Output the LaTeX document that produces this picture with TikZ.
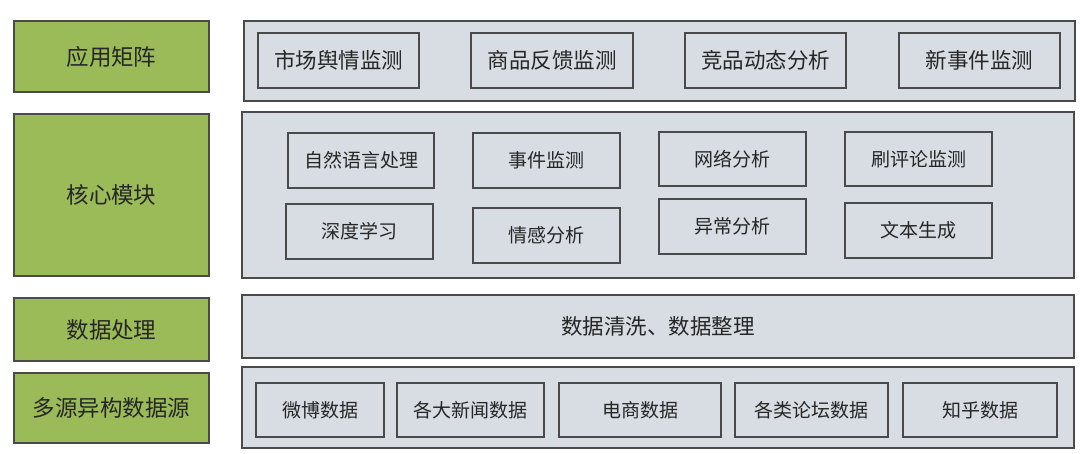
\documentclass[tikz,border=0pt]{standalone}
\usepackage{fontspec}
\setmainfont{Noto Sans CJK SC}
\definecolor{lgreen}{HTML}{9BBB59}
\definecolor{lgray}{HTML}{D7DDE3}
\definecolor{edge}{HTML}{4A4A4A}
\tikzset{
  layer/.style={draw=edge, line width=1.2pt, fill=lgreen, inner sep=0pt, font=\fontsize{22.5}{24}\selectfont, text=black!85},
  panel/.style={draw=edge, line width=1.2pt, fill=lgray, inner sep=0pt},
  itemA/.style={draw=edge, line width=1.2pt, fill=lgray, inner sep=0pt, font=\fontsize{21.5}{24}\selectfont, text=black!85},
  itemB/.style={draw=edge, line width=1.2pt, fill=lgray, inner sep=0pt, font=\fontsize{19}{22}\selectfont, text=black!85},
}
\begin{document}
\begin{tikzpicture}[x=1pt,y=-1pt]
\useasboundingbox[fill=white] (0,0) rectangle (1080,453);
% left labels
\node[layer, minimum width=195pt, minimum height=71pt] (g1) at (111.5,56.5) {应用矩阵};
\node[layer, minimum width=195pt, minimum height=162pt] (g2) at (111.5,195) {核心模块};
\node[layer, minimum width=195pt, minimum height=63pt] (g3) at (111.5,329.5) {数据处理};
\node[layer, minimum width=195pt, minimum height=70pt] (g4) at (111.5,408) {多源异构数据源};
% panels
\node[panel, minimum width=831pt, minimum height=80pt] (c1) at (659.5,61) {};
\node[panel, minimum width=832pt, minimum height=166pt] (c2) at (658,195) {};
\node[panel, minimum width=832pt, minimum height=63pt, font=\fontsize{21.5}{24}\selectfont, text=black!85] (c3) at (658,326.5) {数据清洗、数据整理};
\node[panel, minimum width=832pt, minimum height=81pt] (c4) at (658,407.5) {};
% row 1
\node[itemA, minimum width=161pt, minimum height=55pt] (a1) at (338.5,60.5) {市场舆情监测};
\node[itemA, minimum width=162pt, minimum height=55pt] (a2) at (552,60.5) {商品反馈监测};
\node[itemA, minimum width=161pt, minimum height=55pt] (a3) at (765.5,60.5) {竞品动态分析};
\node[itemA, minimum width=161pt, minimum height=55pt] (a4) at (979.5,60.5) {新事件监测};
% row 2
\node[itemB, minimum width=146pt, minimum height=55pt] (b1) at (361,160.5) {自然语言处理};
\node[itemB, minimum width=147pt, minimum height=55pt] (b2) at (546.5,160.5) {事件监测};
\node[itemB, minimum width=147pt, minimum height=54pt] (b3) at (732.5,159) {网络分析};
\node[itemB, minimum width=147pt, minimum height=54pt] (b4) at (918.5,159) {刷评论监测};
\node[itemB, minimum width=147pt, minimum height=55pt] (b5) at (359.5,231.5) {深度学习};
\node[itemB, minimum width=147pt, minimum height=55pt] (b6) at (546.5,235.5) {情感分析};
\node[itemB, minimum width=147pt, minimum height=55pt] (b7) at (732.5,226.5) {异常分析};
\node[itemB, minimum width=147pt, minimum height=55pt] (b8) at (918.5,230.5) {文本生成};
% row 4
\node[itemB, minimum width=128pt, minimum height=54pt] (d1) at (320,410) {微博数据};
\node[itemB, minimum width=147pt, minimum height=54pt] (d2) at (470.5,410) {各大新闻数据};
\node[itemB, minimum width=162pt, minimum height=54pt] (d3) at (640,410) {电商数据};
\node[itemB, minimum width=153pt, minimum height=54pt] (d4) at (811.5,410) {各类论坛数据};
\node[itemB, minimum width=154pt, minimum height=54pt] (d5) at (980,410) {知乎数据};
\end{tikzpicture}
\end{document}
